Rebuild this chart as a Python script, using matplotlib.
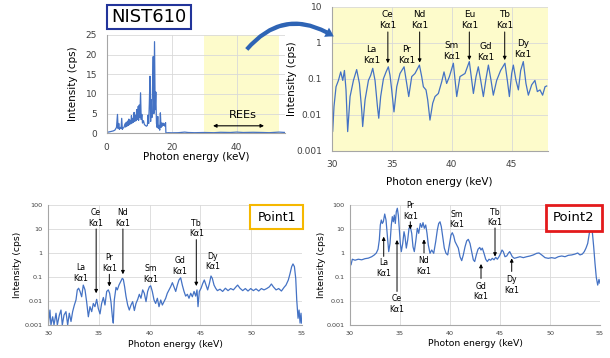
import numpy as np
import matplotlib
matplotlib.use('Agg')
import matplotlib.pyplot as plt
from matplotlib.patches import Rectangle, FancyArrowPatch
from matplotlib.ticker import FixedLocator, FuncFormatter, NullLocator

# ---------------- data ----------------
# NIST610, full spectrum (linear scale)
nist_e = [0.0, 0.1, 0.5, 1.0, 1.5, 2.0, 2.5, 3.0, 3.3, 3.5, 3.7, 3.9, 4.1, 4.4, 4.6, 4.8,
          5.0, 5.3, 5.6, 5.8, 6.0, 6.2, 6.4, 6.6, 6.8, 7.0, 7.2, 7.4, 7.6, 7.8, 8.0, 8.2,
          8.4, 8.6, 8.8, 9.0, 9.2, 9.4, 9.6, 9.8, 10.0, 10.2, 10.4, 10.6, 10.8, 11.0, 11.3,
          11.6, 11.9, 12.2, 12.5, 12.7, 12.9, 13.1, 13.3, 13.5, 13.7, 13.9, 14.1, 14.3, 14.5,
          14.7, 14.9, 15.1, 15.3, 15.5, 15.7, 15.9, 16.1, 16.3, 16.5, 16.7, 16.9, 17.1, 17.3,
          17.5, 17.7, 17.9, 18.1, 18.2, 19.0, 20.0, 22.0, 24.0, 25.0, 27.0, 30.0, 33.0, 35.0,
          38.0, 40.0, 42.0, 45.0, 48.0, 50.0, 53.0, 55.0]
nist_cps = [12.9, 0.4, 0.3, 0.4, 0.5, 0.6, 0.8, 1.5, 4.8, 1.2, 2.5, 1.0, 1.5, 1.2, 3.8, 1.0,
            1.3, 1.5, 2.4, 1.6, 2.8, 1.8, 3.1, 2.0, 3.6, 2.2, 3.3, 2.4, 4.5, 2.6, 3.8, 2.8,
            5.3, 3.0, 4.6, 3.2, 6.0, 3.5, 6.8, 3.3, 7.2, 4.0, 10.3, 3.5, 4.8, 2.6, 3.2,
            2.2, 2.0, 1.8, 2.0, 4.6, 2.5, 7.5, 14.5, 3.0, 8.5, 4.0, 12.0, 19.5, 5.0,
            23.3, 6.0, 10.5, 2.5, 1.5, 4.3, 1.2, 2.0, 0.8, 5.2, 1.5, 2.6, 1.8, 2.6,
            2.0, 2.4, 1.8, 2.7, 0.1, 0.15, 0.12, 0.15, 0.3, 0.2, 0.15, 0.2, 0.15, 0.25,
            0.2, 0.3, 0.2, 0.25, 0.2, 0.15, 0.3, 0.2]

# NIST610, 30-48 keV (log scale)
zoom_e = [30.00, 30.08, 30.19, 30.36, 30.56, 30.75, 30.92, 31.06, 31.19, 31.33, 31.53, 31.81,
          32.08, 32.31, 32.50, 32.58, 32.78, 33.06, 33.25, 33.42, 33.61, 33.81, 33.92, 34.08,
          34.31, 34.53, 34.72, 34.86, 35.00, 35.19, 35.42, 35.69, 36.03, 36.25, 36.42, 36.67,
          36.94, 37.31, 37.50, 37.64, 37.86, 38.00, 38.19, 38.42, 38.61, 38.89, 39.17, 39.36,
          39.58, 39.81, 40.14, 40.42, 40.69, 41.11, 41.47, 41.81, 42.03, 42.22, 42.42, 42.64,
          42.86, 43.06, 43.28, 43.47, 43.75, 44.08, 44.44, 44.64, 44.81, 45.00, 45.14, 45.36,
          45.56, 45.75, 45.97, 46.19, 46.39, 46.67, 46.94, 47.14, 47.36, 47.58, 47.78, 47.92]
zoom_cps = [0.0135, 0.0034, 0.017, 0.06, 0.09, 0.155, 0.09, 0.17, 0.05, 0.0034, 0.032, 0.09,
            0.18, 0.074, 0.0135, 0.0047, 0.026, 0.09, 0.125, 0.195, 0.09, 0.017, 0.008, 0.032,
            0.1, 0.155, 0.215, 0.125, 0.049, 0.012, 0.06, 0.14, 0.215, 0.074, 0.032, 0.115,
            0.14, 0.24, 0.115, 0.06, 0.049, 0.026, 0.0071, 0.021, 0.032, 0.039, 0.083, 0.155,
            0.074, 0.115, 0.27, 0.032, 0.115, 0.14, 0.30, 0.039, 0.115, 0.215, 0.09, 0.032,
            0.10, 0.24, 0.09, 0.035, 0.09, 0.17, 0.27, 0.09, 0.032, 0.14, 0.24, 0.09,
            0.049, 0.17, 0.30, 0.074, 0.035, 0.068, 0.09, 0.044, 0.049, 0.035, 0.06, 0.063]

# Point1 (log scale)
p1_e = [30.00, 30.16, 30.26, 30.43, 30.56, 30.76, 30.89, 31.09, 31.25, 31.38, 31.55, 31.74,
        31.91, 32.07, 32.24, 32.40, 32.57, 32.73, 32.86, 32.99, 33.13, 33.29, 33.45, 33.62,
        33.78, 33.95, 34.11, 34.28, 34.44, 34.60, 34.77, 34.93, 35.10, 35.26, 35.43, 35.59,
        35.76, 35.92, 36.05, 36.18, 36.32, 36.41, 36.51, 36.68, 36.81, 36.97, 37.14, 37.30,
        37.40, 37.53, 37.66, 37.83, 37.99, 38.16, 38.32, 38.49, 38.65, 38.82, 38.98, 39.14,
        39.31, 39.47, 39.64, 39.80, 39.97, 40.10, 40.26, 40.43, 40.59, 40.76, 40.92, 41.09,
        41.25, 41.41, 41.58, 41.74, 41.91, 42.07, 42.24, 42.40, 42.57, 42.73, 42.89, 43.06,
        43.22, 43.39, 43.55, 43.72, 43.88, 44.05, 44.21, 44.38, 44.54, 44.67, 44.77, 44.90,
        45.07, 45.23, 45.39, 45.56, 45.72, 45.89, 46.05, 46.18, 46.35, 46.51, 46.68, 46.94,
        47.20, 47.47, 47.73, 47.99, 48.26, 48.52, 48.68, 48.91, 49.18, 49.44, 49.70, 49.97,
        50.23, 50.49, 50.76, 51.02, 51.28, 51.55, 51.81, 52.01, 52.20, 52.47, 52.73, 53.00,
        53.26, 53.45, 53.68, 53.85, 54.01, 54.14, 54.28, 54.41, 54.51, 54.64, 54.74, 54.84,
        54.93, 55.00]
p1_cps = [0.001, 0.0042, 0.001, 0.0022, 0.001, 0.0031, 0.001, 0.0026, 0.0042, 0.001, 0.0026, 0.0036,
          0.001, 0.0031, 0.0014, 0.0036, 0.0068, 0.011, 0.029, 0.034, 0.025, 0.015, 0.046, 0.029,
          0.0094, 0.0022, 0.0058, 0.0036, 0.0079, 0.0058, 0.0117, 0.0049, 0.0029, 0.0079, 0.014, 0.0068,
          0.025, 0.029, 0.021, 0.0094, 0.0022, 0.0012, 0.011, 0.037, 0.029, 0.046, 0.064, 0.088,
          0.08, 0.039, 0.016, 0.0068, 0.0042, 0.0068, 0.0094, 0.004, 0.0079, 0.0117, 0.019, 0.013,
          0.029, 0.021, 0.0094, 0.025, 0.039, 0.043, 0.025, 0.011, 0.0079, 0.013, 0.0058, 0.011,
          0.0068, 0.0094, 0.013, 0.021, 0.029, 0.039, 0.058, 0.039, 0.025, 0.046, 0.075, 0.093,
          0.046, 0.025, 0.016, 0.019, 0.013, 0.021, 0.015, 0.025, 0.016, 0.029, 0.0058, 0.025,
          0.034, 0.053, 0.075, 0.046, 0.029, 0.053, 0.11, 0.088, 0.046, 0.034, 0.027, 0.031,
          0.025, 0.034, 0.027, 0.033, 0.029, 0.039, 0.046, 0.034, 0.027, 0.033, 0.026, 0.033,
          0.027, 0.032, 0.026, 0.033, 0.029, 0.033, 0.039, 0.051, 0.039, 0.029, 0.033, 0.026,
          0.037, 0.046, 0.075, 0.14, 0.27, 0.35, 0.27, 0.088, 0.011, 0.0019, 0.0042, 0.0012,
          0.0031, 0.0012]

# Point2 (log scale)
p2_e = [30.00, 30.10, 30.23, 30.50, 30.83, 31.17, 31.50, 31.83, 32.17, 32.43, 32.63, 32.80,
        32.93, 33.03, 33.13, 33.23, 33.33, 33.47, 33.60, 33.73, 33.87, 34.00, 34.13, 34.23,
        34.33, 34.43, 34.53, 34.63, 34.73, 34.83, 34.93, 35.03, 35.13, 35.27, 35.40, 35.50,
        35.63, 35.77, 35.90, 36.03, 36.17, 36.30, 36.43, 36.57, 36.73, 36.87, 37.03, 37.17,
        37.30, 37.43, 37.57, 37.70, 37.83, 38.00, 38.17, 38.37, 38.57, 38.73, 38.87, 39.00,
        39.13, 39.27, 39.43, 39.60, 39.77, 39.93, 40.10, 40.23, 40.37, 40.50, 40.67, 40.83,
        41.00, 41.17, 41.33, 41.50, 41.67, 41.83, 42.00, 42.17, 42.33, 42.47, 42.63, 42.80,
        42.97, 43.10, 43.23, 43.40, 43.57, 43.73, 43.90, 44.07, 44.23, 44.40, 44.57, 44.73,
        44.90, 45.07, 45.20, 45.33, 45.50, 45.67, 45.83, 45.97, 46.10, 46.23, 46.43, 46.67,
        47.00, 47.33, 47.67, 48.00, 48.33, 48.67, 48.90, 49.17, 49.50, 49.83, 50.17, 50.50,
        50.83, 51.17, 51.50, 51.83, 52.17, 52.50, 52.77, 53.00, 53.23, 53.43, 53.60, 53.77,
        53.90, 54.03, 54.13, 54.23, 54.37, 54.50, 54.63, 54.77, 54.90, 55.00]
p2_cps = [0.44, 0.32, 0.55, 0.5, 0.55, 0.52, 0.58, 0.61, 0.7, 0.83, 1.0, 1.43,
          3.5, 14.7, 23.7, 17, 20, 42, 23.7, 5.6, 1.14, 2.5, 14.7, 32.6,
          20, 38, 17, 53, 73, 38, 9, 2.5, 1.14, 2.5, 7.7, 4.8,
          1.6, 3.5, 10.7, 12.5, 6.6, 1.8, 1.14, 3.0, 10.7, 6.6, 17, 11.7,
          18.4, 10.7, 14.7, 6.6, 2.15, 0.97, 1.33, 0.97, 3.0, 9.0, 17, 20,
          12.5, 4.8, 1.6, 0.97, 0.83, 2.15, 5.6, 7.0, 5.1, 3.0, 2.15, 1.6,
          0.7, 0.48, 0.83, 1.8, 3.2, 3.7, 2.5, 1.14, 0.52, 0.44, 0.83, 1.43,
          1.7, 1.33, 1.6, 0.97, 0.55, 0.44, 0.55, 0.5, 0.6, 0.52, 0.66, 0.55,
          0.7, 0.97, 1.33, 1.14, 0.7, 0.75, 0.97, 1.14, 0.9, 0.7, 0.6, 0.64,
          0.7, 0.64, 0.7, 0.75, 0.83, 0.97, 1.0, 0.83, 0.64, 0.6, 0.64, 0.6,
          0.7, 0.75, 0.7, 0.8, 0.83, 0.9, 1.0, 0.83, 0.9, 1.14, 1.6, 2.5,
          5.6, 11.7, 13.4, 7.7, 1.8, 0.37, 0.096, 0.046, 0.08, 0.055]

# element labels: (name, x, y of text, vertical alignment, arrow from, arrow to)
zoom_labels = [('La', 33.30, 0.24, 'bottom', None, None),
               ('Ce', 34.68, 2.25, 'bottom', 2.0, 0.27),
               ('Pr', 36.25, 0.24, 'bottom', None, None),
               ('Nd', 37.33, 2.25, 'bottom', 2.0, 0.28),
               ('Sm', 40.00, 0.32, 'bottom', None, None),
               ('Eu', 41.47, 2.3, 'bottom', 2.0, 0.33),
               ('Gd', 42.80, 0.30, 'bottom', None, None),
               ('Tb', 44.42, 2.3, 'bottom', 2.0, 0.33),
               ('Dy', 45.95, 0.35, 'bottom', None, None)]
p1_labels = [('La', 33.20, 0.055, 'bottom', None, None),
             ('Ce', 34.72, 11.5, 'bottom', 10.0, 0.021),
             ('Pr', 36.02, 0.15, 'bottom', 0.13, 0.04),
             ('Nd', 37.36, 11.5, 'bottom', 10.0, 0.13),
             ('Sm', 40.10, 0.05, 'bottom', None, None),
             ('Gd', 42.95, 0.11, 'bottom', None, None),
             ('Tb', 44.60, 4.1, 'bottom', 3.6, 0.042),
             ('Dy', 46.20, 0.17, 'bottom', None, None)]
p2_labels = [('La', 33.37, 0.62, 'top', 0.72, 4.8),
             ('Ce', 34.70, 0.019, 'top', 0.025, 3.5),
             ('Pr', 36.03, 22, 'bottom', 20, 9.7),
             ('Nd', 37.40, 0.75, 'top', 1.0, 3.7),
             ('Sm', 40.70, 9.7, 'bottom', None, None),
             ('Gd', 43.10, 0.064, 'top', 0.087, 0.35),
             ('Tb', 44.50, 11.7, 'bottom', 11, 0.71),
             ('Dy', 46.17, 0.12, 'top', 0.17, 0.6)]

blue = '#4472c4'
yellow = '#fdfbcb'


def style_axes(ax, fs, pad):
    for s in ['top', 'right']:
        ax.spines[s].set_visible(False)
    for s in ['left', 'bottom']:
        ax.spines[s].set_color('#a6a6a6')
        ax.spines[s].set_linewidth(0.8)
    ax.grid(True, color='#d9d9d9', lw=0.6)
    ax.set_axisbelow(True)
    ax.tick_params(length=0, labelsize=fs, colors='#404040', pad=pad)


def log_ticks(ax, ticks):
    ax.set_yscale('log')
    ax.yaxis.set_major_locator(FixedLocator(ticks))
    ax.yaxis.set_minor_locator(NullLocator())
    ax.yaxis.set_major_formatter(FuncFormatter(lambda v, _: f'{v:g}'))


def put_labels(ax, labels, fs):
    for name, x, y, va, a0, a1 in labels:
        ax.text(x, y, name + '\nKα1', ha='center', va=va, fontsize=fs, linespacing=1.25)
        if a0 is not None:
            ax.annotate('', xy=(x, a1), xytext=(x, a0),
                        arrowprops=dict(arrowstyle='-|>', color='black', lw=0.7,
                                        mutation_scale=5, shrinkA=0, shrinkB=0))


fig = plt.figure(figsize=(6.1, 3.58), dpi=100)

# ---- NIST610 full spectrum ----
ax1 = fig.add_axes([0.175, 0.6277, 0.293, 0.2746])
ax1.axvspan(30, 53, color=yellow, zorder=0.4, lw=0)
ax1.plot(nist_e, nist_cps, color=blue, lw=0.9)
ax1.set_xlim(0, 55)
ax1.set_ylim(0, 25)
ax1.set_xticks([0, 20, 40])
ax1.set_yticks([0, 5, 10, 15, 20, 25])
style_axes(ax1, 6.5, 7)
ax1.set_xlabel('Photon energy (keV)', fontsize=7.5)
ax1.set_ylabel('Intensity (cps)', fontsize=7.5)
ax1.xaxis.set_label_coords(0.5, -0.19)
ax1.yaxis.set_label_coords(-0.16, 0.5)
ax1.annotate('', xy=(48.4, 1.9), xytext=(32.7, 1.9),
             arrowprops=dict(arrowstyle='<|-|>', color='black', lw=0.8,
                             mutation_scale=5, shrinkA=0, shrinkB=0))
ax1.text(41.9, 4.7, 'REEs', ha='center', va='center', fontsize=8.2)

# ---- NIST610 30-48 keV ----
ax2 = fig.add_axes([0.5438, 0.579, 0.354, 0.402])
ax2.set_facecolor(yellow)
ax2.plot(zoom_e, zoom_cps, color=blue, lw=0.9)
log_ticks(ax2, [0.001, 0.01, 0.1, 1, 10])
ax2.set_xlim(30, 48)
ax2.set_ylim(0.001, 10)
ax2.set_xticks([30, 35, 40, 45])
style_axes(ax2, 6.5, 7)
ax2.set_xlabel('Photon energy (keV)', fontsize=7.5)
ax2.set_ylabel('Intensity (cps)', fontsize=7.5)
ax2.xaxis.set_label_coords(0.5, -0.183)
ax2.yaxis.set_label_coords(-0.16, 0.5)
put_labels(ax2, zoom_labels, 6.4)

# ---- Point1 ----
ax3 = fig.add_axes([0.0792, 0.0922, 0.4154, 0.3352])
ax3.plot(p1_e, p1_cps, color=blue, lw=0.9)
log_ticks(ax3, [0.001, 0.01, 0.1, 1, 10, 100])
ax3.set_xlim(30, 55)
ax3.set_ylim(0.001, 100)
ax3.set_xticks([30, 35, 40, 45, 50, 55])
style_axes(ax3, 4.6, 4)
ax3.set_xlabel('Photon energy (keV)', fontsize=6.7)
ax3.set_ylabel('Intensity (cps)', fontsize=6.7)
ax3.xaxis.set_label_coords(0.5, -0.125)
ax3.yaxis.set_label_coords(-0.104, 0.5)
put_labels(ax3, p1_labels, 5.6)

# ---- Point2 ----
ax4 = fig.add_axes([0.5738, 0.0922, 0.4098, 0.3352])
ax4.plot(p2_e, p2_cps, color=blue, lw=0.9)
log_ticks(ax4, [0.001, 0.01, 0.1, 1, 10, 100])
ax4.set_xlim(30, 55)
ax4.set_ylim(0.001, 100)
ax4.set_xticks([30, 35, 40, 45, 50, 55])
style_axes(ax4, 4.6, 4)
ax4.set_xlabel('Photon energy (keV)', fontsize=6.7)
ax4.set_ylabel('Intensity (cps)', fontsize=6.7)
ax4.xaxis.set_label_coords(0.5, -0.117)
ax4.yaxis.set_label_coords(-0.096, 0.5)
put_labels(ax4, p2_labels, 5.6)

# ---- title boxes ----
fig.add_artist(Rectangle((0.1749, 0.9182), 0.1377, 0.0679, transform=fig.transFigure,
                         fc='white', ec='#22349a', lw=1.5))
fig.text(0.2438, 0.952, 'NIST610', ha='center', va='center', fontsize=13)
fig.add_artist(Rectangle((0.4098, 0.3595), 0.0874, 0.0679, transform=fig.transFigure,
                         fc='white', ec='#f5b800', lw=1.5))
fig.text(0.4536, 0.3933, 'Point1', ha='center', va='center', fontsize=8.9)
fig.add_artist(Rectangle((0.8946, 0.3556), 0.0918, 0.0718, transform=fig.transFigure,
                         fc='white', ec='#e31a1c', lw=2))
fig.text(0.9405, 0.3916, 'Point2', ha='center', va='center', fontsize=9.5)

# ---- curved arrow from REEs region to zoomed view ----
fig.add_artist(FancyArrowPatch((0.4016, 0.856), (0.551, 0.894), transform=fig.transFigure,
                               connectionstyle='arc3,rad=-0.45',
                               arrowstyle='simple,head_length=0.6,head_width=0.75,tail_width=0.3',
                               mutation_scale=10, color='#2e64b5', lw=0))

fig.savefig('out.png', dpi=100)
